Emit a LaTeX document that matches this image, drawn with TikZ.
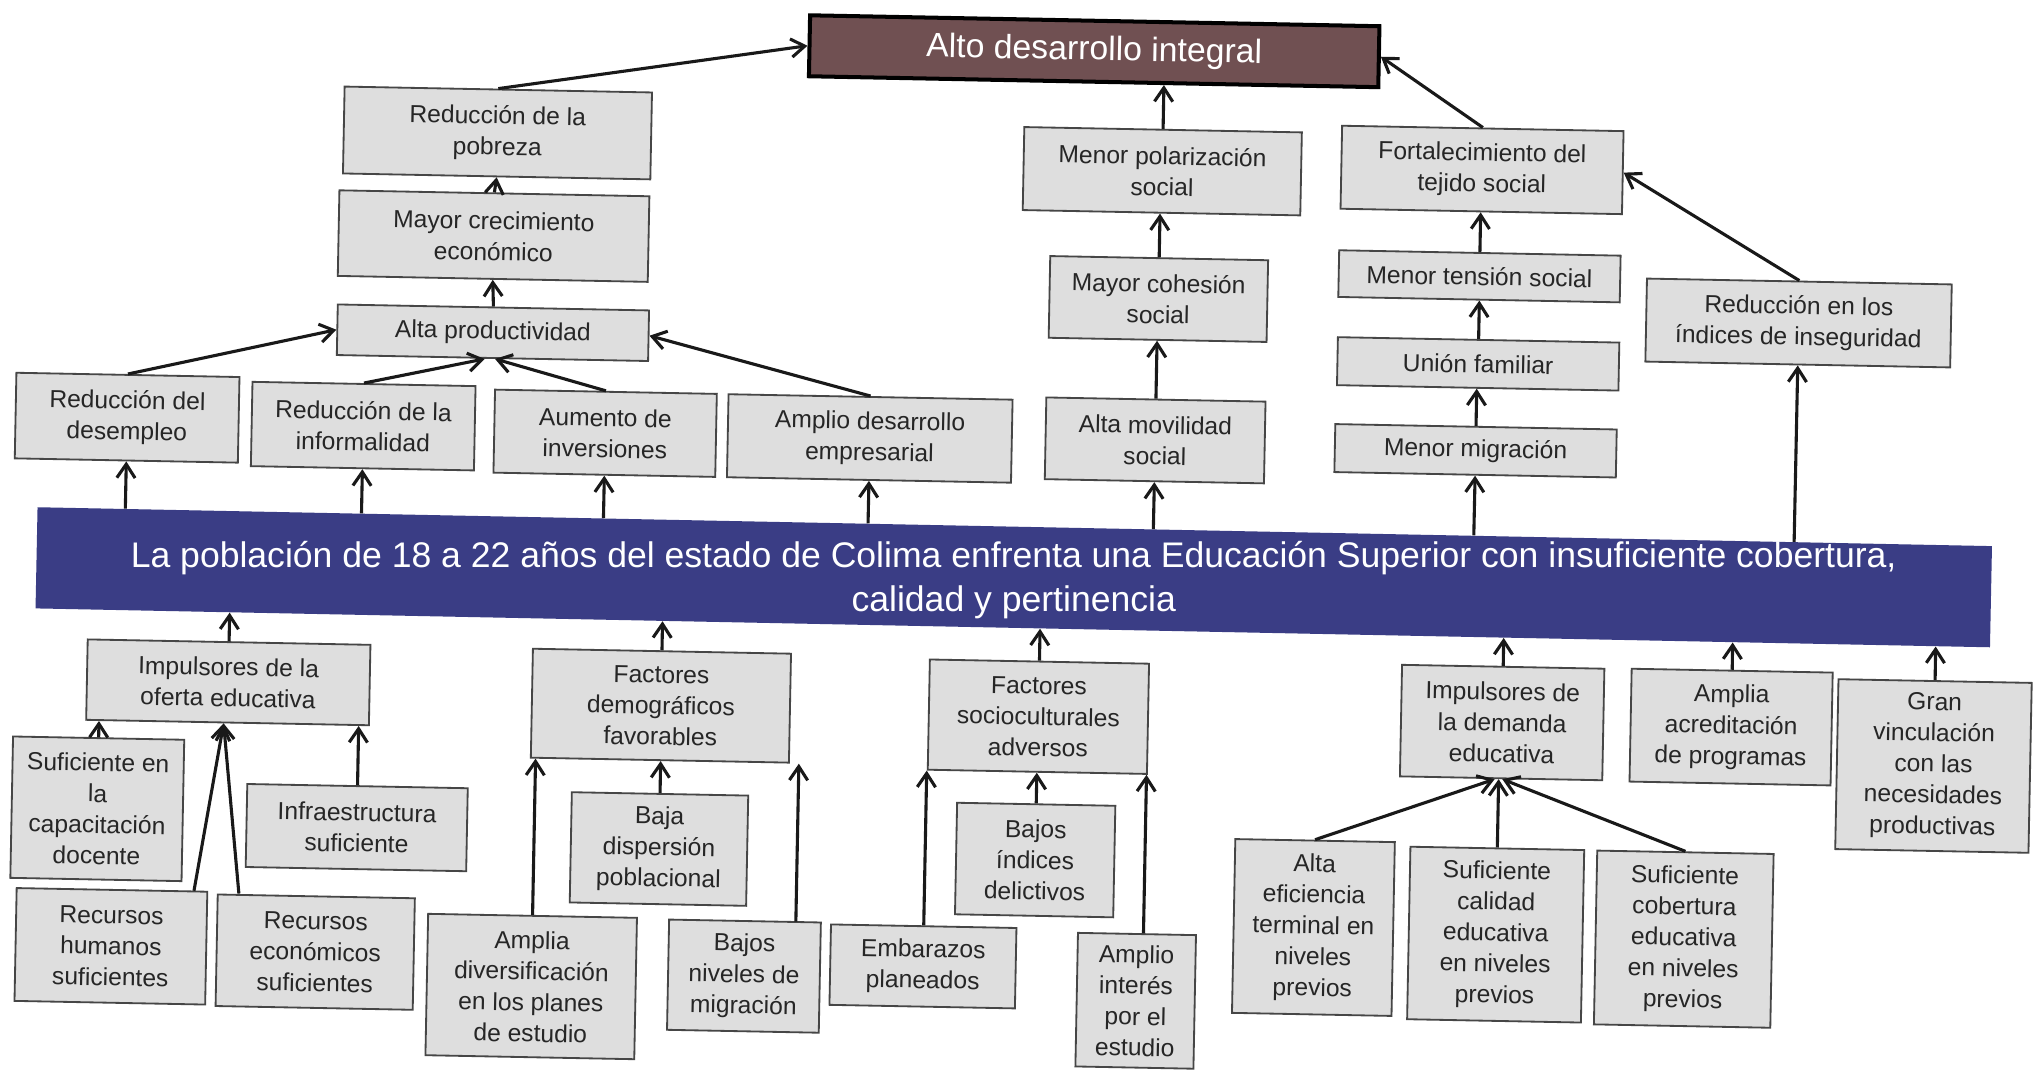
\documentclass[tikz,border=0pt]{standalone}
\usepackage{fontspec}
\setmainfont{Liberation Sans}
\usetikzlibrary{arrows.meta,calc}
\definecolor{boxfill}{RGB}{222,222,222}
\definecolor{boxline}{RGB}{70,70,70}
\definecolor{banfill}{RGB}{58,61,133}
\definecolor{altofill}{RGB}{112,80,82}
\tikzset{
  box/.style={draw=boxline, fill=boxfill, line width=1pt, align=center, inner sep=1pt,
    text=black!85, font=\fontsize{13.5}{17}\selectfont, rotate=-1.1},
  arr/.style={-{Straight Barb[length=7.5pt,width=10pt]}, line width=1.7pt, draw=black!90},
}
% #1 extra options, #2 name, #3 x1, #4 y1, #5 x2, #6 y2, #7 text
\newcommand\bx[7][]{%
  \node[box,minimum width={(#5-#3)*0.025cm},minimum height={(#6-#4)*0.025cm},#1]
    (#2) at ({(#3+#5)/2},{(#4+#6)/2}) {#7};}
\begin{document}
\begin{tikzpicture}[x=0.025cm,y=-0.025cm]
\fill[white] (0,0) rectangle (1568,825.6);
\useasboundingbox (0,0) rectangle (1568,825.6);

% top node
\node[fill=altofill, draw=black, line width=2.2pt, text=white, rotate=-1.1,
  minimum width={439*0.025cm}, minimum height={47*0.025cm}, inner sep=0pt,
  font=\fontsize{18.5}{22}\selectfont] (alto) at (843.5,39.5) {Alto desarrollo integral};

% banner
\node[fill=banfill, draw=none, rotate=-1.14,
  minimum width={1507*0.025cm}, minimum height={78*0.025cm}, inner sep=0pt] (ban) at (781.5,445) {};
\node[text=white, align=center, inner sep=0pt,
  font=\fontsize{19.5}{24}\selectfont] (bantxt) at ($(ban.center)+(0,2)$)
  {La población de 18 a 22 años del estado de Colima enfrenta una Educación Superior con insuficiente cobertura,\\calidad y pertinencia};

% upper boxes
\bx{pob}{265}{69}{502}{136}{Reducción de la\\pobreza}
\bx{crec}{261}{149}{500}{215}{Mayor crecimiento\\económico}
\bx{prod}{260}{237}{500}{276}{Alta productividad}
\bx{desemp}{12}{289}{184}{355}{Reducción del\\desempleo}
\bx{inf}{194}{296}{366}{361}{Reducción de la\\informalidad}
\bx{inv}{381}{302}{552}{366}{Aumento de\\inversiones}
\bx{emp}{561}{306}{780}{370}{Amplio desarrollo\\empresarial}
\bx{pol}{789}{100}{1003}{164}{Menor polarización\\social}
\bx{coh}{809}{199}{977}{262}{Mayor cohesión\\social}
\bx{mov}{806}{308}{975}{371}{Alta movilidad\\social}
\bx{fort}{1034}{99}{1251}{163}{Fortalecimiento del\\tejido social}
\bx{tens}{1032}{195}{1249}{231}{Menor tensión social}
\bx{union}{1031}{262}{1248}{299}{Unión familiar}
\bx{migr}{1029}{329}{1246}{366}{Menor migración}
\bx{inseg}{1269}{217}{1504}{281}{Reducción en los\\índices de inseguridad}

% lower boxes
\bx{oferta}{67}{495}{285}{557}{Impulsores de la\\oferta educativa}
\bx{sufcap}{9}{569}{141}{678}{Suficiente en\\la\\capacitación\\docente}
\bx{infra}{190}{606}{360}{670}{Infraestructura\\suficiente}
\bx{rechum}{12}{686}{159}{773}{Recursos\\humanos\\suficientes}
\bx{receco}{167}{691}{319}{777}{Recursos\\económicos\\suficientes}
\bx{fdem}{410}{502}{609}{586}{Factores\\demográficos\\favorables}
\bx{bdisp}{440}{612}{576}{697}{Baja\\dispersión\\poblacional}
\bx{adiv}{329}{706}{490}{815}{Amplia\\diversificación\\en los planes\\de estudio}
\bx{bniv}{515}{710}{632}{795}{Bajos\\niveles de\\migración}
\bx{socio}{716}{510}{885}{595}{Factores\\socioculturales\\adversos}
\bx{bind}{737}{620}{859}{706}{Bajos\\índices\\delictivos}
\bx{emb}{640}{714}{783}{776}{Embarazos\\planeados}
\bx{amint}{830}{720}{921}{823}{Amplio\\interés\\por el\\estudio}
\bx{dem}{1080}{514}{1236}{600}{Impulsores de\\la demanda\\educativa}
\bx{efic}{951}{648}{1074}{782}{Alta\\eficiencia\\terminal en\\niveles\\previos}
\bx{cal}{1086}{654}{1220}{787}{Suficiente\\calidad\\educativa\\en niveles\\previos}
\bx{cob}{1230}{657}{1366}{791}{Suficiente\\cobertura\\educativa\\en niveles\\previos}
\bx{acred}{1257}{517}{1412}{604}{Amplia\\acreditación\\de programas}
\bx{gran}{1416}{525}{1565}{656}{Gran\\vinculación\\con las\\necesidades\\productivas}

% banner -> upper effects
\foreach \n in {desemp,inf,inv,emp,mov,migr,inseg}
  \draw[arr] ($(ban.north west)!(\n.south)!(ban.north east)$) -- (\n.south);

% upper chain
\draw[arr] (crec.north) -- (pob.south);
\draw[arr] (prod.north) -- (crec.south);
\draw[arr] (pob.north) -- (alto.west);
\draw[arr] (desemp.north) -- (prod.west);
\draw[arr] (inf.north) -- ($(prod.south)+(-6,0)$);
\draw[arr] (inv.north) -- ($(prod.south)+(2,0)$);
\draw[arr] (emp.north) -- (prod.east);
\draw[arr] (pol.north) -- ($(alto.south west)!(pol.north)!(alto.south east)$);
\draw[arr] (coh.north) -- ($(pol.south west)!(coh.north)!(pol.south east)$);
\draw[arr] (mov.north) -- ($(coh.south west)!(mov.north)!(coh.south east)$);
\draw[arr] (fort.north) -- (alto.east);
\draw[arr] (tens.north) -- ($(fort.south west)!(tens.north)!(fort.south east)$);
\draw[arr] (union.north) -- ($(tens.south west)!(union.north)!(tens.south east)$);
\draw[arr] (migr.north) -- ($(union.south west)!(migr.north)!(union.south east)$);
\draw[arr] (inseg.north) -- (fort.east);

% lower causes -> banner
\foreach \n in {oferta,fdem,socio,dem,acred,gran}
  \draw[arr] (\n.north) -- ($(ban.south west)!(\n.north)!(ban.south east)$);

% lower chains
\draw[arr] (sufcap.north) -- ($(oferta.south west)!(sufcap.north)!(oferta.south east)$);
\draw[arr] (infra.north) -- ($(oferta.south west)!(infra.north)!(oferta.south east)$);
\draw[arr] ($(rechum.north east)+(-11,0)$) -- ($(oferta.south)+(-3,0)$);
\draw[arr] ($(receco.north west)+(17,0)$) -- ($(oferta.south)+(-3,0)$);

\draw[arr] (bdisp.north) -- ($(fdem.south west)!(bdisp.north)!(fdem.south east)$);
\draw[arr] (adiv.north) -- ($(fdem.south west)!(adiv.north)!(fdem.south east)$);
\coordinate (bnivA) at ($(bniv.north east)+(-20,0)$);
\draw[arr] (bnivA) -- ($(fdem.south west)!(bnivA)!(fdem.south east)$);

\draw[arr] (bind.north) -- ($(socio.south west)!(bind.north)!(socio.south east)$);
\draw[arr] (emb.north) -- ($(socio.south west)!(emb.north)!(socio.south east)$);
\coordinate (amintA) at ($(amint.north)+(5,0)$);
\draw[arr] (amintA) -- ($(socio.south west)!(amintA)!(socio.south east)$);

\draw[arr] (efic.north) -- ($(dem.south)+(-5,0)$);
\draw[arr] (cal.north) -- ($(dem.south west)!(cal.north)!(dem.south east)$);
\draw[arr] (cob.north) -- ($(dem.south)+(1,0)$);
\end{tikzpicture}
\end{document}
